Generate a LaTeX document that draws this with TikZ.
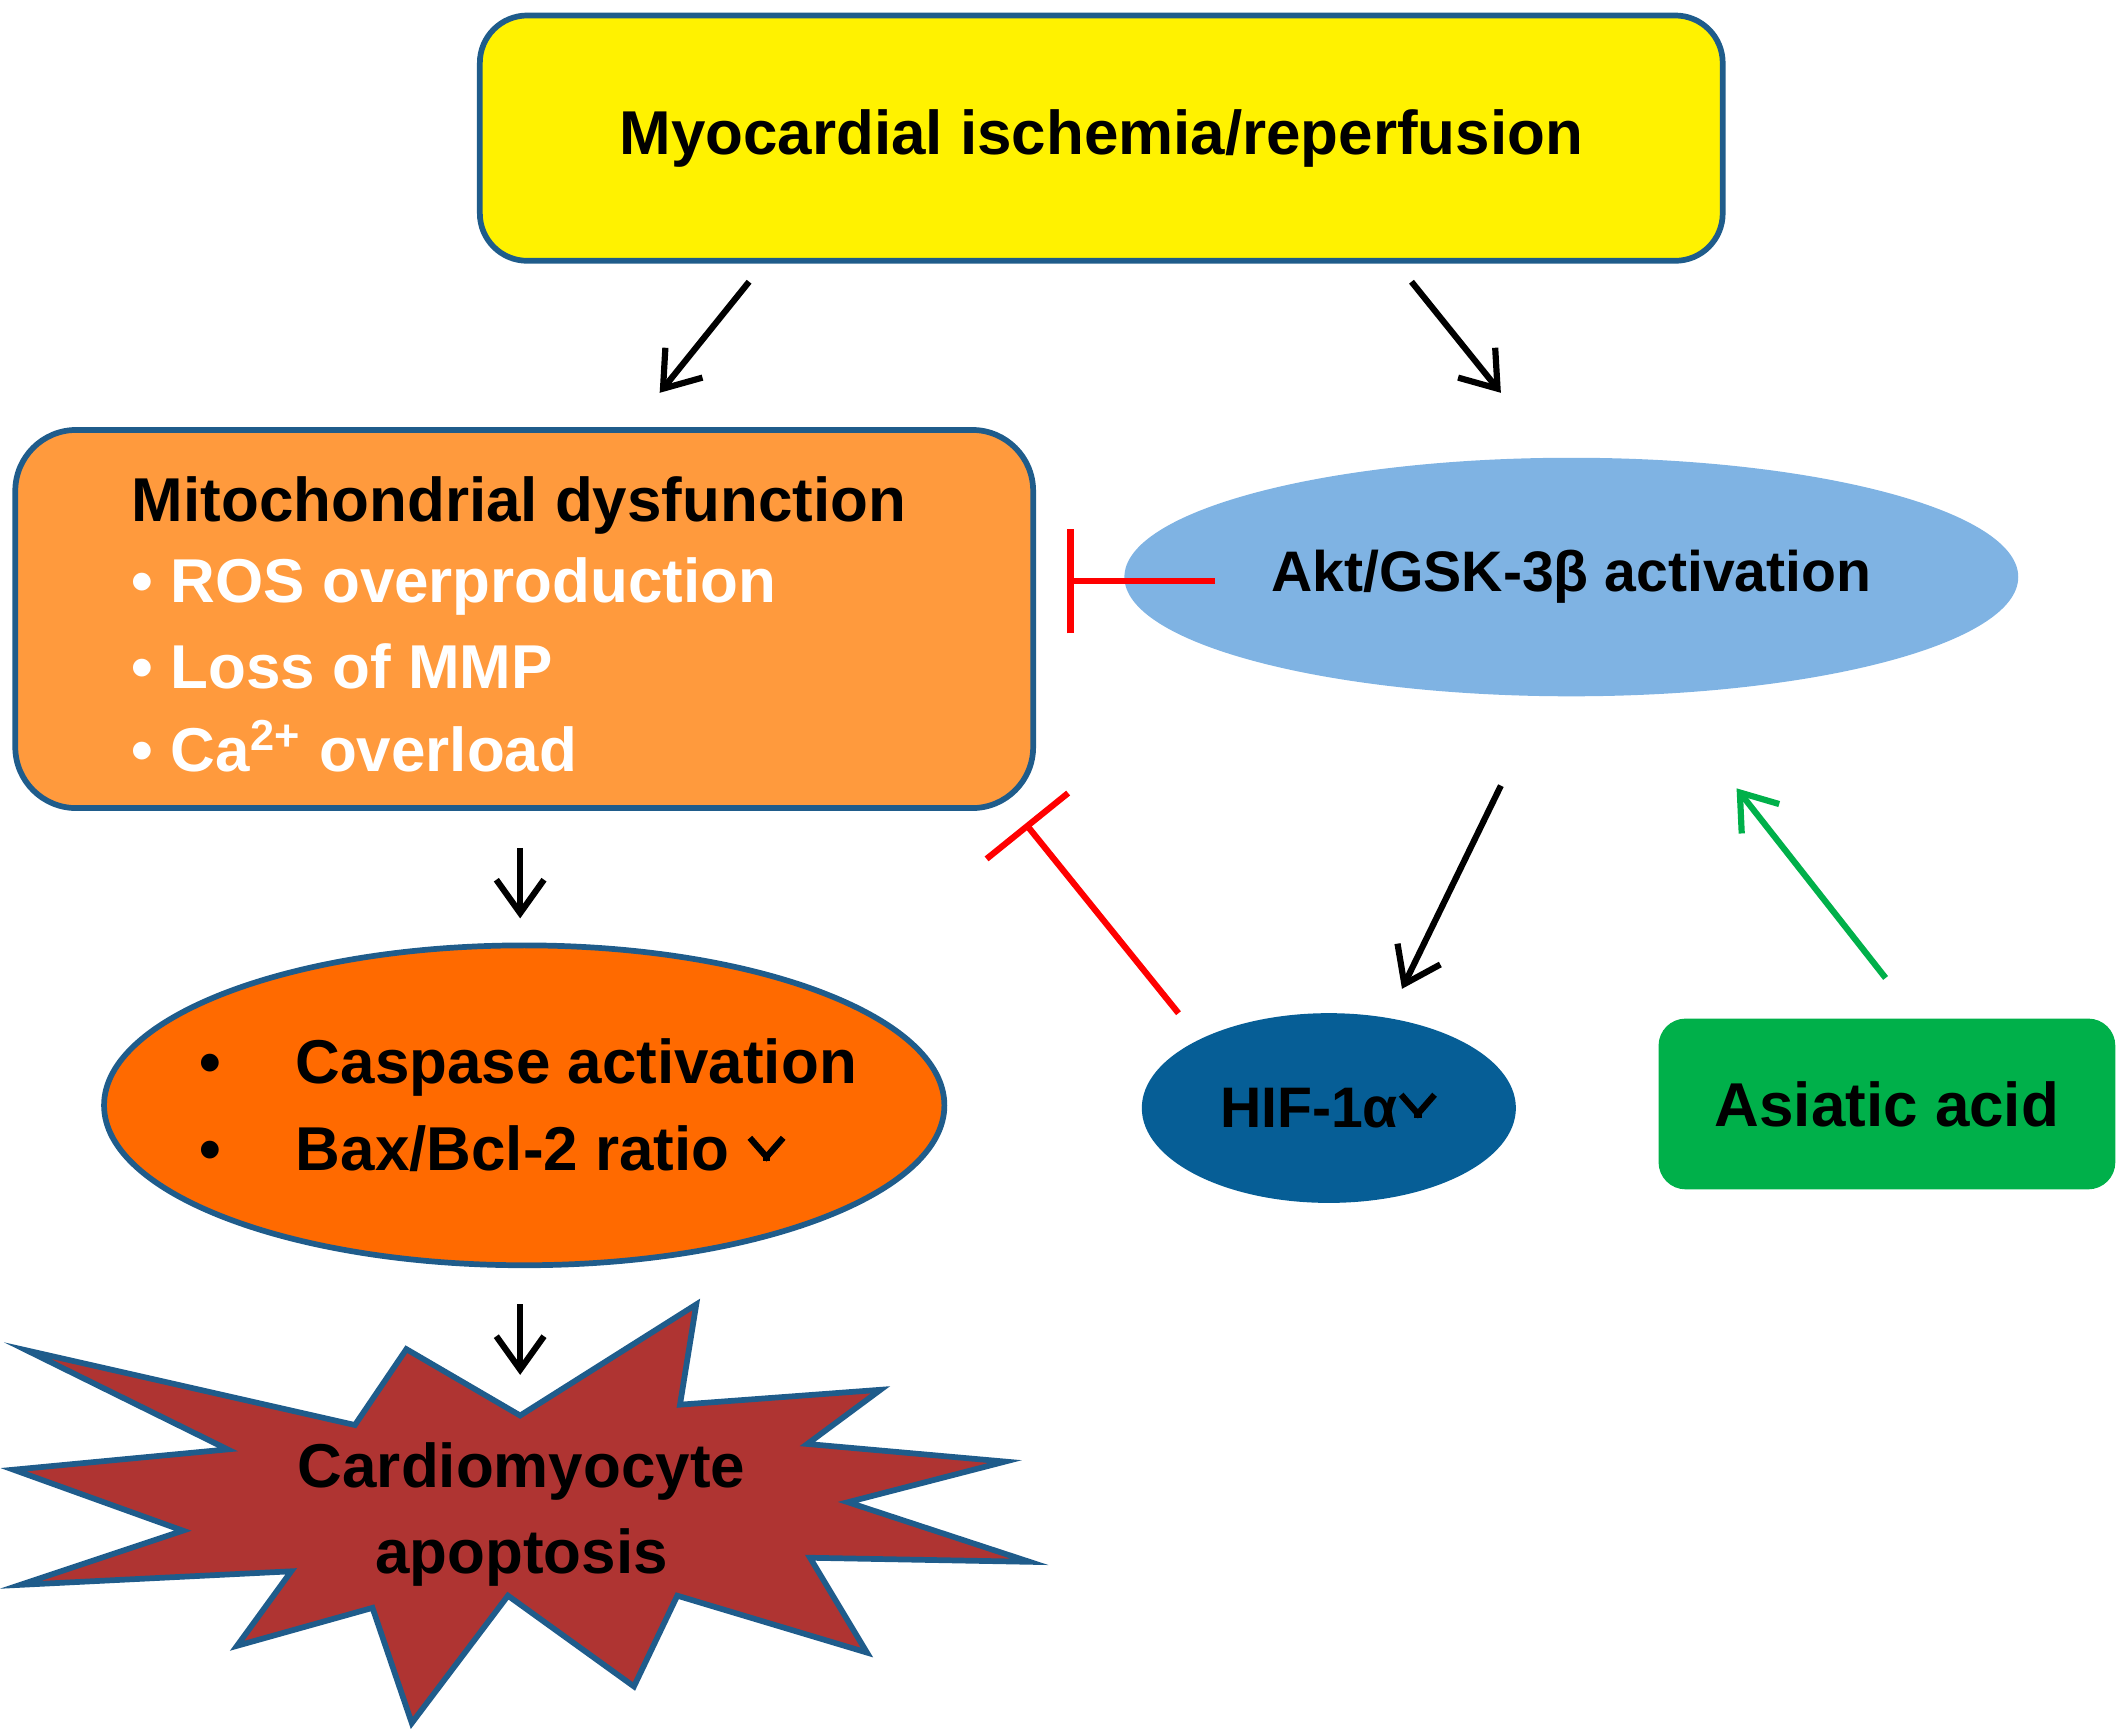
\documentclass[tikz,border=0pt]{standalone}
\usepackage{fontspec}
\setmainfont{Liberation Sans}
\usetikzlibrary{arrows.meta,shapes.geometric}
\definecolor{bd}{HTML}{1F5C8B}
\newcommand{\myup}{\tikz[baseline=-2pt]\draw[line width=1.6pt,-{Straight Barb[length=4pt,width=7pt,line width=1.3pt]}] (0,-0.2)--(0,0.45);}
\begin{document}
\begin{tikzpicture}[x=0.01cm,y=-0.01cm,
 ar/.style={line width=1.3pt,-{Straight Barb[length=7pt,width=10pt,line width=1.3pt]}},
 inh/.style={line width=1.3pt,red,-{Bar[width=22pt,line width=1.3pt]}},
 lbl/.style={font=\fontsize{13}{16}\bfseries\selectfont}]
\useasboundingbox (0,0) rectangle (1568,1280);
\node[draw=bd,line width=1.2pt,fill=yellow,rounded corners=0.35cm,minimum width=9.17cm,minimum height=1.81cm,lbl] (top) at (813,102) {Myocardial ischemia/reperfusion};
\node[draw=bd,line width=1.2pt,fill={rgb,255:red,255;green,154;blue,61},rounded corners=0.45cm,minimum width=7.51cm,minimum height=2.79cm] (mito) at (387,457) {};
\node[lbl,anchor=west] (m1) at (85,373) {Mitochondrial dysfunction};
\node[lbl,anchor=west,text=white] (m2) at (85,433) {• ROS overproduction};
\node[lbl,anchor=west,text=white] (m3) at (85,492) {• Loss of MMP};
\node[lbl,anchor=west,text=white] (m4) at (85,551) {• Ca\textsuperscript{2+} overload};
\node[ellipse,fill={rgb,255:red,127;green,179;blue,227},minimum width=5.1cm,minimum height=1.76cm,font=\fontsize{12}{14}\bfseries\selectfont] (akt) at (1160,426) {Akt/GSK-3β activation};
\node[ellipse,draw=bd,line width=1.2pt,fill={rgb,255:red,255;green,106;blue,0},minimum width=6.2cm,minimum height=2.36cm] (casp) at (387,816) {};
\node[lbl,anchor=west] (c1) at (135,788) {•\hspace{0.55cm}Caspase activation};
\node[lbl,anchor=west] (c2) at (135,848) {•\hspace{0.55cm}Bax/Bcl-2 ratio \myup};
\node[ellipse,fill={rgb,255:red,6;green,94;blue,150},minimum width=2.76cm,minimum height=1.4cm,font=\fontsize{12}{14}\bfseries\selectfont] (hif) at (981,818) {HIF-1α\myup};
\node[fill={rgb,255:red,0;green,176;blue,74},rounded corners=0.2cm,minimum width=3.37cm,minimum height=1.26cm,lbl] (aa) at (1393,815) {Asiatic acid};
\draw[draw=bd,line width=1.2pt,fill={rgb,255:red,175;green,52;blue,50}]
 (20,997)--(262,1052)--(300,996)--(384,1045)--(514,963)--(502,1037)--(650,1026)--(596,1066)--(742,1079)--(626,1109)--(760,1153)--(598,1150)--(640,1220)--(500,1178)--(468,1245)--(375,1178)--(304,1272)--(275,1187)--(175,1215)--(215,1160)--(15,1170)--(135,1130)--(10,1085)--(168,1070)--cycle;
\node[align=center,font=\fontsize{13}{18}\bfseries\selectfont] (apo) at (385,1118) {Cardiomyocyte\\apoptosis};
\coordinate (a1) at (553,208); \coordinate (a2) at (487,290);
\coordinate (b1) at (1042,208); \coordinate (b2) at (1108,290);
\coordinate (c1s) at (384,626); \coordinate (c1e) at (384,678);
\coordinate (d1s) at (384,963); \coordinate (d1e) at (384,1015);
\coordinate (e1) at (1108,580); \coordinate (e2) at (1035,730);
\coordinate (g1) at (1392,722); \coordinate (g2) at (1282,582);
\coordinate (r1) at (897,429); \coordinate (r2) at (788,429);
\coordinate (s1) at (870,748); \coordinate (s2) at (757,608);
\draw[ar] (a1)--(a2); \draw[ar] (b1)--(b2);
\draw[ar] (c1s)--(c1e); \draw[ar] (d1s)--(d1e);
\draw[ar] (e1)--(e2);
\draw[ar,draw={rgb,255:red,0;green,176;blue,74}] (g1)--(g2);
\draw[inh] (r1)--(r2); \draw[inh] (s1)--(s2);
\end{tikzpicture}
\end{document}
